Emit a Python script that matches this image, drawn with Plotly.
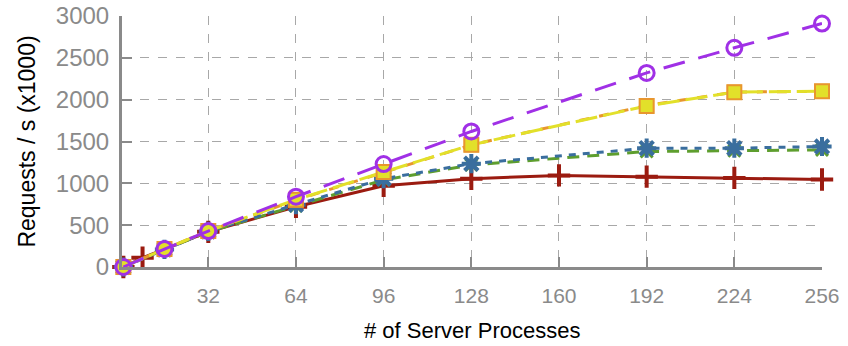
import plotly.graph_objects as go

# x positions (server processes) per series
x_red = [1, 8, 32, 64, 96, 128, 160, 192, 224, 256]
y_red = [0, 110, 420, 720, 970, 1055, 1095, 1080, 1065, 1045]

x_main = [1, 16, 32, 64, 96, 128, 192, 224, 256]
y_green = [0, 210, 420, 730, 1040, 1220, 1380, 1390, 1400]
y_blue = [0, 210, 425, 745, 1055, 1235, 1420, 1420, 1440]
y_orange = [0, 215, 430, 800, 1130, 1460, 1930, 2090, 2100]
y_yellow = [0, 215, 430, 805, 1135, 1460, 1925, 2090, 2100]
y_purple = [0, 215, 430, 840, 1230, 1620, 2320, 2620, 2910]

x_ticks = [32, 64, 96, 128, 160, 192, 224, 256]
y_ticks = [0, 500, 1000, 1500, 2000, 2500, 3000]

fig = go.Figure()

fig.add_trace(go.Scatter(x=x_red, y=y_red, mode='lines+markers',
                         line=dict(color='#9b1b10', width=3),
                         marker=dict(symbol='cross-thin-open', size=16,
                                     line=dict(color='#9b1b10', width=4)),
                         cliponaxis=False))
fig.add_trace(go.Scatter(x=x_main, y=y_green, mode='lines+markers',
                         line=dict(color='#5e9e2e', width=3, dash='12px,8px'),
                         marker=dict(symbol='x-thin-open', size=12,
                                     line=dict(color='#5e9e2e', width=3)),
                         cliponaxis=False))
fig.add_trace(go.Scatter(x=x_main, y=y_blue, mode='lines+markers',
                         line=dict(color='#3a6e9e', width=3, dash='7px,7px'),
                         marker=dict(symbol='asterisk-open', size=16,
                                     line=dict(color='#3a6e9e', width=4)),
                         cliponaxis=False))
fig.add_trace(go.Scatter(x=x_main, y=y_orange, mode='lines+markers',
                         line=dict(color='#e8962e', width=3, dash='10px,10px'),
                         marker=dict(symbol='square', size=15, color='#e8962e'),
                         cliponaxis=False))
fig.add_trace(go.Scatter(x=x_main, y=y_yellow, mode='lines+markers',
                         line=dict(color='#e2e02a', width=3, dash='22px,6px'),
                         marker=dict(symbol='square', size=14, color='#e2e02a',
                                     line=dict(color='#e8962e', width=2)),
                         cliponaxis=False))
fig.add_trace(go.Scatter(x=x_main, y=y_purple, mode='lines+markers',
                         line=dict(color='#a030e6', width=3, dash='22px,14px'),
                         marker=dict(symbol='circle-open', size=15,
                                     line=dict(color='#a030e6', width=3)),
                         cliponaxis=False))

gray = '#8a8a8a'

fig.update_layout(
    width=848, height=346,
    margin=dict(l=122, r=26, t=16, b=79),
    plot_bgcolor='white', paper_bgcolor='white',
    showlegend=False,
    xaxis=dict(range=[0.5, 256], tickvals=x_ticks, automargin=False,
               tickfont=dict(family='Liberation Sans, Arial', size=21, color=gray),
               ticklabelstandoff=8, ticklabeloverflow='allow',
               showline=True, linecolor=gray, linewidth=3,
               ticks='inside', ticklen=10, tickwidth=2, tickcolor=gray,
               showgrid=True, gridcolor='#a8a8a8', griddash='dash', gridwidth=1,
               zeroline=False),
    yaxis=dict(range=[0, 3000], tickvals=y_ticks, automargin=False,
               tickfont=dict(family='Liberation Sans, Arial', size=24, color=gray),
               ticklabelstandoff=5, ticklabeloverflow='allow',
               showline=True, linecolor=gray, linewidth=3,
               ticks='inside', ticklen=10, tickwidth=2, tickcolor=gray,
               showgrid=True, gridcolor='#a8a8a8', griddash='dash', gridwidth=1,
               zeroline=False),
)

# axis titles as annotations so they sit exactly where the original has them
fig.add_annotation(text='# of Server Processes', xref='paper', yref='paper',
                   x=0.5, y=-0.251, xanchor='center', yanchor='middle', showarrow=False,
                   font=dict(family='Liberation Sans, Arial', size=22, color='black'))
fig.add_annotation(text='Requests / s (x1000)', xref='paper', yref='paper',
                   x=-0.137, y=0.5, xanchor='center', yanchor='middle', showarrow=False,
                   textangle=-90,
                   font=dict(family='Liberation Sans, Arial', size=23, color='black'))

fig.write_html("out.html", config={'displayModeBar': False},
               post_script="document.body.style.margin='0';")
